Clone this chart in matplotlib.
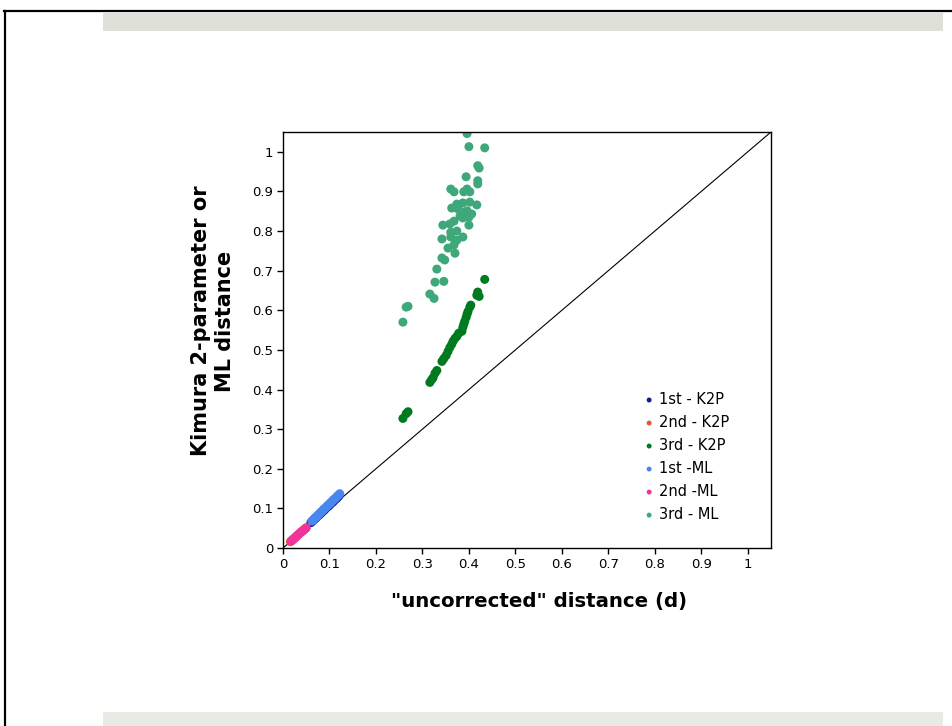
import matplotlib
matplotlib.use("Agg")
import matplotlib.pyplot as plt
from matplotlib.patches import Rectangle
from matplotlib.lines import Line2D

# ---- data ----
first_k2p_x = [0.060, 0.063, 0.066, 0.069, 0.071, 0.074, 0.077, 0.079, 0.082, 0.085,
               0.087, 0.090, 0.093, 0.095, 0.098, 0.100, 0.103, 0.106, 0.108, 0.111,
               0.114, 0.117, 0.120]
first_k2p_y = [0.064, 0.067, 0.071, 0.074, 0.076, 0.080, 0.083, 0.085, 0.088, 0.092,
               0.094, 0.097, 0.101, 0.103, 0.106, 0.108, 0.112, 0.115, 0.117, 0.121,
               0.124, 0.127, 0.131]
second_k2p_x = [0.016, 0.019, 0.022, 0.025, 0.028, 0.031, 0.034, 0.037, 0.040, 0.043,
                0.046, 0.049]
second_k2p_y = [0.016, 0.019, 0.022, 0.025, 0.029, 0.032, 0.035, 0.038, 0.041, 0.044,
                0.047, 0.050]
third_k2p_x = [0.258, 0.265, 0.269, 0.316, 0.320, 0.323, 0.327, 0.331, 0.342, 0.346,
               0.351, 0.355, 0.359, 0.363, 0.366, 0.370, 0.374, 0.378, 0.385, 0.387,
               0.389, 0.391, 0.394, 0.396, 0.398, 0.402, 0.404, 0.417, 0.419, 0.422,
               0.434]
third_k2p_y = [0.327, 0.339, 0.344, 0.418, 0.425, 0.430, 0.441, 0.448, 0.471, 0.478,
               0.486, 0.496, 0.506, 0.514, 0.522, 0.529, 0.534, 0.542, 0.547, 0.557,
               0.565, 0.572, 0.582, 0.590, 0.597, 0.608, 0.613, 0.638, 0.646, 0.635,
               0.678]
first_ml_x = [0.062, 0.065, 0.068, 0.071, 0.073, 0.076, 0.079, 0.081, 0.084, 0.087,
              0.089, 0.092, 0.095, 0.097, 0.100, 0.102, 0.105, 0.108, 0.110, 0.113,
              0.116, 0.119, 0.122]
first_ml_y = [0.068, 0.071, 0.075, 0.078, 0.080, 0.084, 0.087, 0.090, 0.093, 0.097,
              0.099, 0.102, 0.106, 0.108, 0.111, 0.114, 0.117, 0.121, 0.123, 0.126,
              0.130, 0.133, 0.137]
second_ml_x = [0.018, 0.021, 0.024, 0.027, 0.030, 0.033, 0.036, 0.039, 0.042, 0.045,
               0.048, 0.050]
second_ml_y = [0.018, 0.021, 0.024, 0.027, 0.030, 0.034, 0.037, 0.040, 0.043, 0.046,
               0.049, 0.051]
third_ml_x = [0.396, 0.400, 0.434, 0.419, 0.422, 0.394, 0.419, 0.419, 0.361, 0.368,
              0.389, 0.396, 0.402, 0.402, 0.417, 0.374, 0.387, 0.363, 0.376, 0.385,
              0.396, 0.406, 0.381, 0.387, 0.400, 0.344, 0.359, 0.368, 0.400, 0.361,
              0.374, 0.342, 0.361, 0.374, 0.387, 0.368, 0.355, 0.370, 0.342, 0.348,
              0.331, 0.327, 0.346, 0.316, 0.325, 0.269, 0.265, 0.258]
third_ml_y = [1.046, 1.013, 1.010, 0.965, 0.959, 0.937, 0.927, 0.919, 0.906, 0.899,
              0.899, 0.906, 0.899, 0.873, 0.866, 0.868, 0.871, 0.858, 0.856, 0.848,
              0.851, 0.843, 0.838, 0.833, 0.835, 0.815, 0.818, 0.825, 0.815, 0.797,
              0.800, 0.780, 0.785, 0.777, 0.785, 0.765, 0.757, 0.744, 0.732, 0.727,
              0.704, 0.671, 0.673, 0.641, 0.630, 0.610, 0.608, 0.570]

ticks = [0, 0.1, 0.2, 0.3, 0.4, 0.5, 0.6, 0.7, 0.8, 0.9, 1]
tick_labels = ["0", "0.1", "0.2", "0.3", "0.4", "0.5", "0.6", "0.7", "0.8", "0.9", "1"]
diag = [0, 1.05]

series = [
    ("1st - K2P", first_k2p_x, first_k2p_y, "#0b1f8c"),
    ("2nd - K2P", second_k2p_x, second_k2p_y, "#e8513f"),
    ("3rd - K2P", third_k2p_x, third_k2p_y, "#007a1e"),
    ("1st -ML", first_ml_x, first_ml_y, "#4a86f0"),
    ("2nd -ML", second_ml_x, second_ml_y, "#f0359a"),
    ("3rd - ML", third_ml_x, third_ml_y, "#3ea87a"),
]

W, H = 952, 726
fig = plt.figure(figsize=(W / 100, H / 100), dpi=100)
fig.patch.set_facecolor("white")

# decorative frame and grey bands
fig.add_artist(Line2D([4 / W, 1.0], [1 - 11 / H, 1 - 11 / H], color="black", lw=1.6,
                      transform=fig.transFigure))
fig.add_artist(Line2D([5 / W, 5 / W], [1 - 11 / H, 0], color="black", lw=1.6,
                      transform=fig.transFigure))
fig.add_artist(Rectangle((103 / W, 1 - 31 / H), 840 / W, 18 / H, color="#dfe0d8",
                         transform=fig.transFigure, lw=0))
fig.add_artist(Rectangle((103 / W, 0), 840 / W, 14 / H, color="#e9eae4",
                         transform=fig.transFigure, lw=0))

ax = fig.add_axes([283 / W, 1 - 548 / H, 488 / W, 416 / H])
ax.plot(diag, diag, color="black", lw=0.8, zorder=1)
for name, xs, ys, col in series:
    ax.scatter(xs, ys, s=42, color=col, edgecolors="none", label=name, zorder=2)

ax.set_xlim(0, 1.05)
ax.set_ylim(0, 1.05)
ax.set_xticks(ticks)
ax.set_xticklabels(tick_labels)
ax.set_yticks(ticks)
ax.set_yticklabels(tick_labels)
ax.tick_params(direction="out", length=4, width=1, labelsize=9.5, colors="black", pad=3)
for sp in ax.spines.values():
    sp.set_linewidth(1.0)
    sp.set_color("black")

ax.set_xlabel('"uncorrected" distance (d)', fontsize=14.2, fontweight="bold")
ax.set_ylabel("Kimura 2-parameter or\nML distance", fontsize=15, fontweight="bold",
              linespacing=1.25)
ax.xaxis.set_label_coords((539 - 283) / 488, -(602 - 548) / 416)
ax.yaxis.set_label_coords(-(283 - 213) / 488, (548 - 321) / 416)
ax.xaxis.label.set_va("center")
ax.yaxis.label.set_va("center")

leg = ax.legend(loc="upper left", bbox_to_anchor=((636 - 283) / 488, (548 - 386) / 416),
                frameon=False, fontsize=10.5, handletextpad=0.15, labelspacing=0.55,
                markerscale=0.55, handlelength=1.0, borderaxespad=0)

fig.savefig("out.png", dpi=100)
